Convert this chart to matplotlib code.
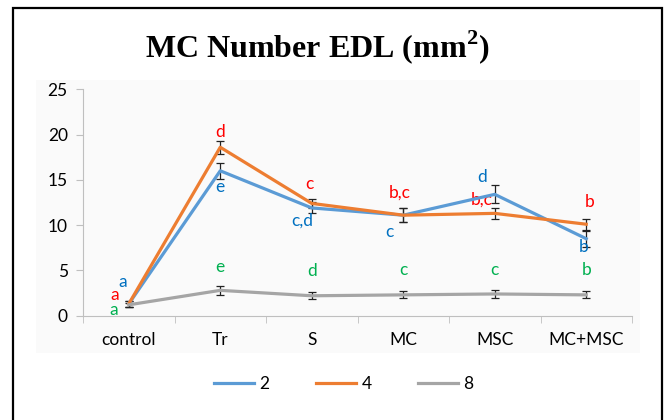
import numpy as np
import matplotlib.pyplot as plt
from matplotlib.patches import Rectangle

# --- data ---
groups = ["control", "Tr", "S", "MC", "MSC", "MC+MSC"]
series_names = ["2", "4", "8"]
vals_2 = [1.3, 16.0, 11.9, 11.1, 13.4, 8.5]
vals_4 = [1.3, 18.6, 12.4, 11.1, 11.3, 10.1]
vals_8 = [1.2, 2.8, 2.2, 2.3, 2.4, 2.3]
err_2 = [0.3, 0.9, 0.6, 0.8, 1.0, 0.9]
err_4 = [0.3, 0.7, 0.5, 0.8, 0.6, 0.6]
err_8 = [0.2, 0.5, 0.4, 0.4, 0.4, 0.4]
letters_2 = ["a", "e", "c,d", "c", "d", "b"]
letters_4 = ["a", "d", "c", "b,c", "b,c", "b"]
letters_8 = ["a", "e", "d", "c", "c", "b"]

# label placement (x offset in categories, y in data units)
pos_2 = [(-0.07, 3.7), (0.0, 14.2), (-0.1, 10.5), (-0.15, 9.2), (-0.14, 15.3), (-0.03, 7.6)]
pos_4 = [(-0.15, 2.3), (0.0, 20.3), (-0.03, 14.5), (-0.04, 13.6), (-0.14, 12.8), (0.04, 12.5)]
pos_8 = [(-0.17, 0.6), (0.0, 5.4), (0.0, 4.9), (0.0, 5.0), (0.0, 5.0), (0.0, 5.0)]

line_colors = ["#5B9BD5", "#ED7D31", "#A5A5A5"]
text_colors = ["#0070C0", "#FF0000", "#00B050"]

plt.rcParams['font.family'] = ['Lato', 'DejaVu Sans']
plt.rcParams['mathtext.fontset'] = 'custom'
plt.rcParams['mathtext.bf'] = 'Liberation Serif:weight=bold'
plt.rcParams['mathtext.rm'] = 'Liberation Serif:weight=bold'

fig = plt.figure(figsize=(6.65, 4.2), dpi=100)

# faint plot area behind the chart
bg = fig.add_axes([36 / 665, 1 - 353 / 420, 604 / 665, 273 / 420], zorder=-1)
bg.set_facecolor("#fafafa")
bg.set_xticks([])
bg.set_yticks([])
for s in bg.spines.values():
    s.set_visible(False)

# outer frame
fig.patches.append(Rectangle((13 / 665, -0.05), 649 / 665, 1 - 8 / 420 + 0.05,
                             transform=fig.transFigure, fill=False,
                             edgecolor="black", linewidth=1.6, zorder=5))

ax = fig.add_axes([83 / 665, 1 - 315.7 / 420, 549 / 665, 226.4 / 420])
ax.patch.set_alpha(0)

x = np.arange(len(groups))
all_vals = [vals_2, vals_4, vals_8]
all_err = [err_2, err_4, err_8]
for vals, err, c, name in zip(all_vals, all_err, line_colors, series_names):
    ax.errorbar(x, vals, yerr=err, color=c, lw=2.3, ecolor="#222222",
                elinewidth=0.9, capsize=3, capthick=0.9, label=name, zorder=3)

for letters, pos, tc in zip([letters_2, letters_4, letters_8],
                            [pos_2, pos_4, pos_8], text_colors):
    for i, (lab, (dx, yy)) in enumerate(zip(letters, pos)):
        ax.text(i + dx, yy, lab, color=tc, fontsize=12.5, ha="center", va="center")

ax.set_xlim(-0.5, len(groups) - 0.5)
ax.set_ylim(0, 25)
ax.set_yticks(np.arange(0, 26, 5))
ax.set_xticks(x)
ax.set_xticklabels(groups)
ax.set_xticks(np.arange(-0.5, len(groups), 1), minor=True)
ax.tick_params(axis="x", which="major", length=0, pad=12, labelsize=12.5)
ax.tick_params(axis="x", which="minor", length=5, color="#bfbfbf")
ax.tick_params(axis="y", length=5, color="#bfbfbf", labelsize=12.5, pad=6)
for side in ["top", "right"]:
    ax.spines[side].set_visible(False)
for side in ["left", "bottom"]:
    ax.spines[side].set_color("#bfbfbf")

fig.text(317 / 665, 1 - 47 / 420, r"MC Number EDL (mm$^{\mathbf{2}}$)",
         ha="center", va="center", fontsize=23, fontweight="bold",
         family="Liberation Serif")

handles = [plt.Line2D([], [], color=c, lw=2.3) for c in line_colors]
fig.legend(handles, series_names, loc="center", bbox_to_anchor=(344 / 665, 1 - 384 / 420),
           ncol=3, frameon=False, fontsize=12.5, handlelength=2.3,
           handletextpad=0.3, columnspacing=2.7)

fig.savefig("out.png", dpi=100)
